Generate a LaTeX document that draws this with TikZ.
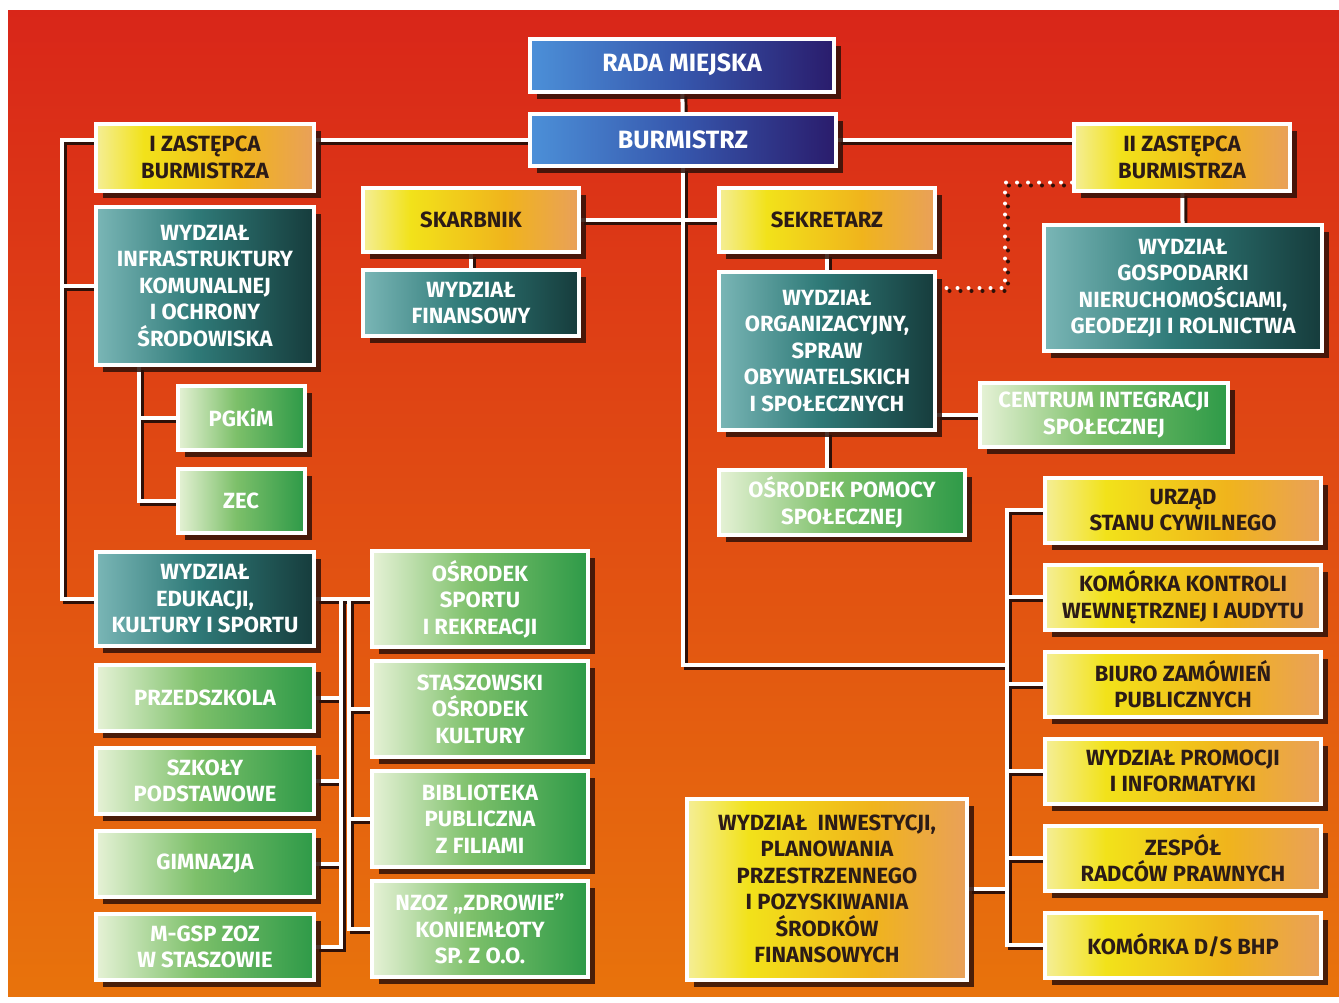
\documentclass[tikz,border=0pt]{standalone}
\usepackage{fontspec}
\setmainfont{Fira Sans}
\usetikzlibrary{positioning,shadows}

\definecolor{bgtop}{HTML}{D92619}
\definecolor{bgmid}{HTML}{E04A12}
\definecolor{bgbot}{HTML}{E8730C}
\definecolor{shade}{HTML}{2E1008}
\definecolor{ink}{HTML}{2B1B17}
\definecolor{bl0}{HTML}{4C90D8}
\definecolor{bl1}{HTML}{3656AC}
\definecolor{bl2}{HTML}{2A1C6C}
\definecolor{yl0}{HTML}{F4EE96}
\definecolor{yl1}{HTML}{F2E21A}
\definecolor{yl2}{HTML}{F0B41C}
\definecolor{yl3}{HTML}{E9A05A}
\definecolor{tl0}{HTML}{7AB6B6}
\definecolor{tl1}{HTML}{2F7A78}
\definecolor{tl2}{HTML}{163C3C}
\definecolor{gr0}{HTML}{E6F2D6}
\definecolor{gr1}{HTML}{7DC06A}
\definecolor{gr2}{HTML}{2E9A48}

\pgfdeclarehorizontalshading{bluefill}{100bp}{color(0bp)=(bl0); color(25bp)=(bl0); color(50bp)=(bl1); color(75bp)=(bl2); color(100bp)=(bl2)}
\pgfdeclarehorizontalshading{yellowfill}{100bp}{color(0bp)=(yl0); color(25bp)=(yl0); color(36bp)=(yl1); color(58bp)=(yl2); color(75bp)=(yl3); color(100bp)=(yl3)}
\pgfdeclarehorizontalshading{tealfill}{100bp}{color(0bp)=(tl0); color(25bp)=(tl0); color(48bp)=(tl1); color(75bp)=(tl2); color(100bp)=(tl2)}
\pgfdeclarehorizontalshading{greenfill}{100bp}{color(0bp)=(gr0); color(25bp)=(gr0); color(48bp)=(gr1); color(75bp)=(gr2); color(100bp)=(gr2)}

\pgfdeclarelayer{back}
\pgfdeclarelayer{wires}
\pgfsetlayers{back,wires,main}

\tikzset{
  unit/.style={draw=white, line width=4pt, align=center, inner sep=0pt, shade,
    font=\bfseries\fontsize{22}{26.5}\selectfont,
    drop shadow={shadow xshift=7pt, shadow yshift=-7pt, fill=shade, opacity=0.85}},
  bluebox/.style={unit, shading=bluefill, text=white, font=\bfseries\fontsize{25}{30}\selectfont},
  yellowbox/.style={unit, shading=yellowfill, text=ink},
  tealbox/.style={unit, shading=tealfill, text=white},
  greenbox/.style={unit, shading=greenfill, text=white},
  link/.style={draw=white, line width=4pt},
  linkshadow/.style={draw=shade, line width=4pt},
  dotlink/.style={draw=white, line width=4pt, line cap=round, dash pattern=on 0pt off 11pt},
  dotshadow/.style={dotlink, draw=shade},
}

% all connectors, drawn once as shadow and once in white
\newcommand\orgwires[2]{%
  \draw[#1] (rada) -- (burm);
  \draw[#1] (burm.west) -- (burm.west -| zast1.east);
  \draw[#1] (burm.east) -- (burm.east -| zast2.west);
  \draw[#1] (zast1.west |- burm.west) -| (lbus |- edu.west) -- (edu.west);
  \draw[#1] (infra.west) -- (infra.west -| lbus);
  \draw[#1] (infra.south -| ibus) |- (zec.west);
  \draw[#1] (pgkim.west) -- (pgkim.west -| ibus);
  \draw[#1] (skarb.east) -- (skarb.east -| sekr.west);
  \draw[#1] (skarb) -- (fin);
  \draw[#1] (sekr) -- (org);
  \draw[#1] (org) -- (org |- ops.north);
  \draw[#1] (cis.west -| org.east) -- (cis.west);
  \draw[#1] (zast2) -- (gosp);
  \draw[#1] (burm.south) |- (trunk);
  \draw[#1] (usc.west) -| (rbus |- bhp.west) -- (bhp.west);
  \foreach \n in {kkw,bzp,wpi,zrp} \draw[#1] (\n.west) -- (\n.west -| rbus);
  \draw[#1] (inw.east) -- (inw.east -| rbus);
  \draw[#1] (edu.east) -- (osir.west);
  \draw[#1] (ebusl |- edu.east) |- (mgsp.east);
  \foreach \n in {przed,szk,gim} \draw[#1] (\n.east) -- (\n.east -| ebusl);
  \draw[#1] (ebusr |- edu.east) |- (nzoz.west);
  \foreach \n in {sok,bib} \draw[#1] (\n.west) -- (\n.west -| ebusr);
  \draw[#2] (dotb) -| (tbus |- dota) -- (dota);
}

\begin{document}
\begin{tikzpicture}[x=1pt,y=-1pt]
  \useasboundingbox (0,0) rectangle (1339,1002);
  \begin{pgfonlayer}{back}
    \fill[white] (0,0) rectangle (1339,1002);
    \fill[top color=bgtop, middle color=bgmid, bottom color=bgbot] (8,10) rectangle (1339,996);
  \end{pgfonlayer}

  % top
  \node (rada) [bluebox, minimum width=304pt, minimum height=53pt] at (682,65) {RADA MIEJSKA};
  \node (burm) [bluebox, minimum width=306pt, minimum height=52pt] at (683,140) {BURMISTRZ};
  \node (zast1) [yellowbox, minimum width=218pt, minimum height=67pt] at (205,157.5) {I ZASTĘPCA\\BURMISTRZA};
  \node (zast2) [yellowbox, minimum width=216pt, minimum height=67pt] at (1182,157.5) {II ZASTĘPCA\\BURMISTRZA};
  \node (skarb) [yellowbox, minimum width=216pt, minimum height=64pt] at (471,220) {SKARBNIK};
  \node (sekr) [yellowbox, minimum width=216pt, minimum height=64pt] at (827,220) {SEKRETARZ};

  % wydzialy
  \node (infra) [tealbox, minimum width=218pt, minimum height=158pt] at (205,286) {WYDZIAŁ\\INFRASTRUKTURY\\KOMUNALNEJ\\I OCHRONY\\ŚRODOWISKA};
  \node (fin) [tealbox, minimum width=216pt, minimum height=66pt] at (471,303) {WYDZIAŁ\\FINANSOWY};
  \node (org) [tealbox, minimum width=216pt, minimum height=158pt] at (827,351) {WYDZIAŁ\\ORGANIZACYJNY,\\SPRAW\\OBYWATELSKICH\\I SPOŁECZNYCH};
  \node (gosp) [tealbox, minimum width=278pt, minimum height=126pt] at (1183,288) {WYDZIAŁ\\GOSPODARKI\\NIERUCHOMOŚCIAMI,\\GEODEZJI I ROLNICTWA};
  \node (edu) [tealbox, minimum width=218pt, minimum height=94pt] at (205,599) {WYDZIAŁ\\EDUKACJI,\\KULTURY I SPORTU};

  % jednostki
  \node (pgkim) [greenbox, minimum width=127pt, minimum height=64pt] at (241,418) {PGKiM};
  \node (zec) [greenbox, minimum width=127pt, minimum height=64pt] at (241,501) {ZEC};
  \node (cis) [greenbox, minimum width=248pt, minimum height=64pt] at (1104,415) {CENTRUM INTEGRACJI\\SPOŁECZNEJ};
  \node (ops) [greenbox, minimum width=246pt, minimum height=65pt] at (842,502.5) {OŚRODEK POMOCY\\SPOŁECZNEJ};

  \node (przed) [greenbox, minimum width=218pt, minimum height=66pt] at (205,698) {PRZEDSZKOLA};
  \node (szk) [greenbox, minimum width=218pt, minimum height=66pt, below=13pt of przed] {SZKOŁY\\PODSTAWOWE};
  \node (gim) [greenbox, minimum width=218pt, minimum height=66pt, below=13pt of szk] {GIMNAZJA};
  \node (mgsp) [greenbox, minimum width=218pt, minimum height=66pt, below=13pt of gim] {M-GSP ZOZ\\W STASZOWIE};

  \node (osir) [greenbox, minimum width=216pt, minimum height=96pt] at (480,599) {OŚRODEK\\SPORTU\\I REKREACJI};
  \node (sok) [greenbox, minimum width=216pt, minimum height=96pt, below=10pt of osir] {STASZOWSKI\\OŚRODEK\\KULTURY};
  \node (bib) [greenbox, minimum width=216pt, minimum height=96pt, below=10pt of sok] {BIBLIOTEKA\\PUBLICZNA\\Z FILIAMI};
  \node (nzoz) [greenbox, minimum width=216pt, minimum height=96pt, below=10pt of bib] {NZOZ „ZDROWIE”\\KONIEMŁOTY\\SP. Z O.O.};

  % prawa kolumna
  \node (usc) [yellowbox, minimum width=276pt, minimum height=65pt] at (1183,510) {URZĄD\\STANU CYWILNEGO};
  \node (kkw) [yellowbox, minimum width=276pt, minimum height=65pt, below=18pt of usc] {KOMÓRKA KONTROLI\\WEWNĘTRZNEJ I AUDYTU};
  \node (bzp) [yellowbox, minimum width=276pt, minimum height=65pt, below=18pt of kkw] {BIURO ZAMÓWIEŃ\\PUBLICZNYCH};
  \node (wpi) [yellowbox, minimum width=276pt, minimum height=65pt, below=18pt of bzp] {WYDZIAŁ PROMOCJI\\I INFORMATYKI};
  \node (zrp) [yellowbox, minimum width=276pt, minimum height=65pt, below=18pt of wpi] {ZESPÓŁ\\RADCÓW PRAWNYCH};
  \node (bhp) [yellowbox, minimum width=276pt, minimum height=65pt, below=18pt of zrp] {KOMÓRKA D/S BHP};
  \node (inw) [yellowbox, minimum width=280pt, minimum height=181pt] at (827,889) {WYDZIAŁ\ \ INWESTYCJI,\\PLANOWANIA\\PRZESTRZENNEGO\\I POZYSKIWANIA\\ŚRODKÓW\\FINANSOWYCH};

  % bus lines
  \coordinate (lbus) at (62,0);
  \coordinate (ibus) at (139,0);
  \coordinate (ebusl) at (341,0);
  \coordinate (ebusr) at (349,0);
  \coordinate (rbus) at (1007,0);
  \coordinate (tbus) at (1005,0);
  \coordinate (trunk) at (1007,665);
  \coordinate (dota) at ([yshift=63pt]org.east);
  \coordinate (dotb) at ([yshift=-25pt]zast2.west);

  \begin{pgfonlayer}{wires}
    \begin{scope}[transform canvas={shift={(3pt,-3pt)}}]
      \orgwires{linkshadow}{dotshadow}
    \end{scope}
    \orgwires{link}{dotlink}
  \end{pgfonlayer}
\end{tikzpicture}
\end{document}
